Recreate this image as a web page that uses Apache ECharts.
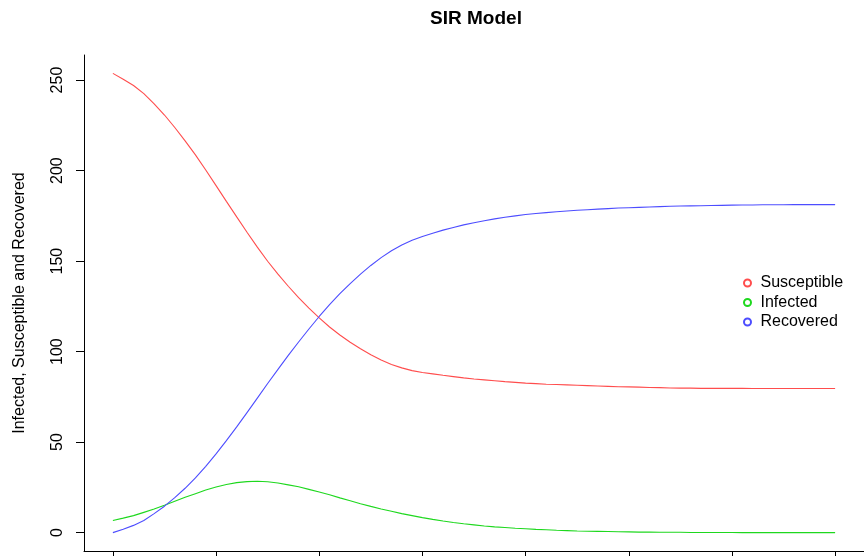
<!DOCTYPE html>
<html>
<head>
<meta charset="utf-8">
<title>SIR Model</title>
<script src="https://cdn.jsdelivr.net/npm/echarts@6/dist/echarts.min.js"></script>
<style>
  html, body { margin: 0; padding: 0; background: #ffffff; }
  #chart { width: 864px; height: 556px; }
</style>
</head>
<body>
<div id="chart"></div>
<script>
// Simulated SIR epidemic, one value per day (days 0..70)
const days = Array.from({ length: 71 }, (_, i) => i);

const susceptible = [
  253.7, 250.5, 247.0, 242.5, 236.9, 230.7, 223.8, 216.4, 208.7, 200.3,
  191.7, 183.0, 174.4, 165.9, 157.7, 149.9, 142.8, 136.1, 129.8, 124.0,
  118.6, 113.6, 109.2, 105.2, 101.6, 98.3, 95.4, 92.9, 91.0, 89.5,
  88.5, 87.7, 86.9, 86.2, 85.5, 84.9, 84.4, 83.9, 83.4, 83.0,
  82.6, 82.3, 82.0, 81.8, 81.6, 81.4, 81.2, 81.0, 80.8, 80.6,
  80.5, 80.4, 80.2, 80.1, 79.9, 79.8, 79.8, 79.7, 79.7, 79.7,
  79.7, 79.7, 79.6, 79.6, 79.6, 79.6, 79.6, 79.6, 79.6, 79.6, 79.6
];

const infected = [
  6.7, 8.0, 9.4, 11.2, 13.0, 15.1, 17.3, 19.5, 21.5, 23.5,
  25.2, 26.6, 27.6, 28.2, 28.4, 28.1, 27.4, 26.4, 25.3, 23.9,
  22.4, 20.9, 19.2, 17.6, 16.0, 14.5, 13.1, 11.8, 10.5, 9.4,
  8.3, 7.3, 6.4, 5.6, 4.9, 4.3, 3.7, 3.2, 2.8, 2.4,
  2.1, 1.8, 1.6, 1.3, 1.1, 0.9, 0.8, 0.7, 0.6, 0.5,
  0.4, 0.3, 0.3, 0.2, 0.2, 0.2, 0.1, 0.1, 0.1, 0.1,
  0.1, 0.0, 0.0, 0.0, 0.0, 0.0, 0.0, 0.0, 0.0, 0.0, 0.0
];

const recovered = [
  0.0, 1.9, 4.0, 6.7, 10.5, 14.6, 19.3, 24.5, 30.2, 36.6,
  43.5, 50.8, 58.4, 66.3, 74.3, 82.4, 90.2, 97.9, 105.3, 112.5,
  119.4, 125.9, 132.0, 137.6, 142.8, 147.6, 151.9, 155.7, 158.9, 161.5,
  163.6, 165.4, 167.1, 168.6, 170.0, 171.2, 172.3, 173.3, 174.2, 175.0,
  175.7, 176.3, 176.8, 177.3, 177.7, 178.1, 178.4, 178.7, 179.0, 179.3,
  179.5, 179.7, 179.9, 180.1, 180.3, 180.4, 180.5, 180.6, 180.7, 180.8,
  180.9, 181.0, 181.0, 181.1, 181.1, 181.1, 181.2, 181.2, 181.2, 181.2, 181.2
];

const seriesNames = ['Susceptible', 'Infected', 'Recovered'];
const xTicks = [0, 10, 20, 30, 40, 50, 60, 70];
const yTicks = [0, 50, 100, 150, 200, 250];

const FONT = '"Liberation Sans", Arial, sans-serif';
const colors = ['#ff4d4d', '#1ed81e', '#4d4dff'];

const pairs = vals => days.map((d, i) => [d, vals[i]]);

// axis ranges padded 4% beyond the data range on each side
const xMin = -2.8, xMax = 72.8;
const yMin = -10.15, yMax = 263.85;

const chart = echarts.init(document.getElementById('chart'), null, { renderer: 'canvas' });

chart.setOption({
  animation: false,
  backgroundColor: '#ffffff',
  title: {
    text: 'SIR Model',
    left: 471,
    top: 4,
    textAlign: 'center',
    textStyle: { fontFamily: FONT, fontWeight: 'bold', fontSize: 19, color: '#000' }
  },
  legend: {
    orient: 'vertical',
    left: 738,
    top: 270,
    icon: 'emptyCircle',
    itemWidth: 16,
    itemHeight: 7,
    itemGap: 3.5,
    itemStyle: { borderWidth: 1 },
    data: seriesNames,
    textStyle: { fontFamily: FONT, fontSize: 16, lineHeight: 16, color: '#000' }
  },
  grid: {
    left: 84, right: 0, top: 55, bottom: 5,
    containLabel: false,
    outerBoundsMode: 'none'
  },
  xAxis: {
    type: 'value',
    min: xMin,
    max: xMax,
    axisLine: { show: true, onZero: false, lineStyle: { color: '#000', width: 1 } },
    axisTick: { show: true, customValues: xTicks, length: 8, lineStyle: { color: '#000' } },
    axisLabel: { show: false },
    splitLine: { show: false }
  },
  yAxis: {
    type: 'value',
    min: yMin,
    max: yMax,
    name: 'Infected, Susceptible and Recovered',
    nameLocation: 'middle',
    nameRotate: 90,
    nameGap: 56,
    nameTextStyle: { fontFamily: FONT, fontSize: 16, color: '#000' },
    axisLine: { show: true, onZero: false, lineStyle: { color: '#000', width: 1 } },
    axisTick: { show: true, customValues: yTicks, length: 8, lineStyle: { color: '#000' } },
    axisLabel: {
      show: true,
      customValues: yTicks,
      rotate: 90,
      margin: 18,
      fontFamily: FONT,
      fontSize: 16,
      color: '#000'
    },
    splitLine: { show: false }
  },
  series: seriesNames.map((name, k) => ({
    name,
    type: 'line',
    showSymbol: false,
    symbol: 'emptyCircle',
    data: pairs([susceptible, infected, recovered][k]),
    color: colors[k],
    lineStyle: { color: colors[k], width: 1.1 },
    itemStyle: { color: colors[k], borderColor: colors[k] }
  }))
});
</script>
</body>
</html>
